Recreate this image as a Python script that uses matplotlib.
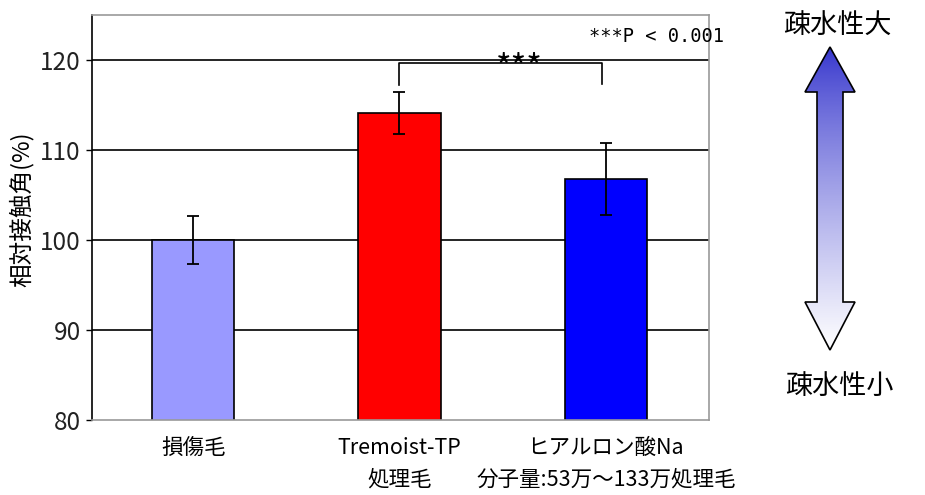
import matplotlib
matplotlib.use("Agg")
import matplotlib.pyplot as plt
import numpy as np
from matplotlib.patches import Polygon

plt.rcParams['font.family'] = ['Noto Sans CJK JP', 'DejaVu Sans']

# data
labels = ['損傷毛', 'Tremoist-TP\n処理毛', 'ヒアルロン酸Na\n分子量:53万〜133万処理毛']
values = [100.0, 114.1, 106.8]
errors = [2.7, 2.3, 4.0]
colors = ['#9999ff', '#ff0000', '#0000ff']
yticks = [80, 90, 100, 110, 120]

fig = plt.figure(figsize=(9.25, 4.95), dpi=100)
ax = fig.add_axes([92 / 925, 75 / 495, 617 / 925, 405 / 495])

x = np.arange(len(values))
for yv in yticks[1:]:
    ax.axhline(yv, color='black', lw=1.2, zorder=1)
ax.bar(x, values, width=0.4, color=colors, edgecolor='black', lw=1.2, zorder=2)
ax.errorbar(x, values, yerr=errors, fmt='none', ecolor='black', elinewidth=1.3,
            capsize=4, capthick=1.3, zorder=3)

ax.set_xlim(-0.49, 2.5)
ax.set_ylim(80, 125)
ax.set_yticks(yticks)
ax.set_yticklabels([str(v) for v in yticks], fontsize=17.5, color='#222222')
ax.set_xticks(x)
ax.set_xticklabels(labels, fontsize=15.5, linespacing=1.6)
ax.tick_params(axis='x', length=0, pad=12)
ax.tick_params(axis='y', length=4, width=1, direction='out', pad=4)
for s in ['top', 'right', 'bottom']:
    ax.spines[s].set_color('#999999')
    ax.spines[s].set_linewidth(1.2)
ax.spines['left'].set_color('black')
ax.spines['left'].set_linewidth(1.2)
ax.set_ylabel('相対接触角(%)', fontsize=17)
ax.yaxis.set_label_coords(-0.095, 0.52)

# significance bracket
ax.plot([1, 1, 1.98, 1.98], [117.2, 119.65, 119.65, 117.3], color='black', lw=1.2, zorder=4)
ax.text(1.58, 117.0, '***', ha='center', va='bottom', fontsize=24, zorder=5)
ax.text(2.575, 122.6, '***P < 0.001', ha='right', va='center', fontsize=13.5,
        family=['DejaVu Sans Mono'], clip_on=False)

# gradient double arrow, in pixel coords
ov = fig.add_axes([0, 0, 1, 1])
ov.set_xlim(0, 925)
ov.set_ylim(495, 0)
ov.axis('off')
cx = 830
hw, sw = 25, 13
pts = [(cx, 47), (cx + hw, 92), (cx + sw, 92), (cx + sw, 302), (cx + hw, 302),
       (cx, 350), (cx - hw, 302), (cx - sw, 302), (cx - sw, 92), (cx - hw, 92)]
poly = Polygon(pts, closed=True, facecolor='none', edgecolor='black', lw=1.2, zorder=3)
ov.add_patch(poly)
t = np.linspace(0, 1, 256)[:, None]
top = np.array([0.2, 0.2, 0.8])
grad = np.clip((t ** 0.8)[..., None] * (1 - top) + top, 0, 1)
grad = np.repeat(grad, 2, axis=1)
im = ov.imshow(grad, extent=[cx - hw, cx + hw, 350, 47], aspect='auto', zorder=2)
clip = Polygon(pts, closed=True, transform=ov.transData, facecolor='none', edgecolor='none')
ov.add_patch(clip)
im.set_clip_path(clip)
ov.set_xlim(0, 925)
ov.set_ylim(495, 0)

fig.text(837 / 925, 1 - 25 / 495, '疎水性大', ha='center', va='center', fontsize=19.5)
fig.text(839 / 925, 1 - 386 / 495, '疎水性小', ha='center', va='center', fontsize=19.5)

fig.savefig('out.png', dpi=100)
